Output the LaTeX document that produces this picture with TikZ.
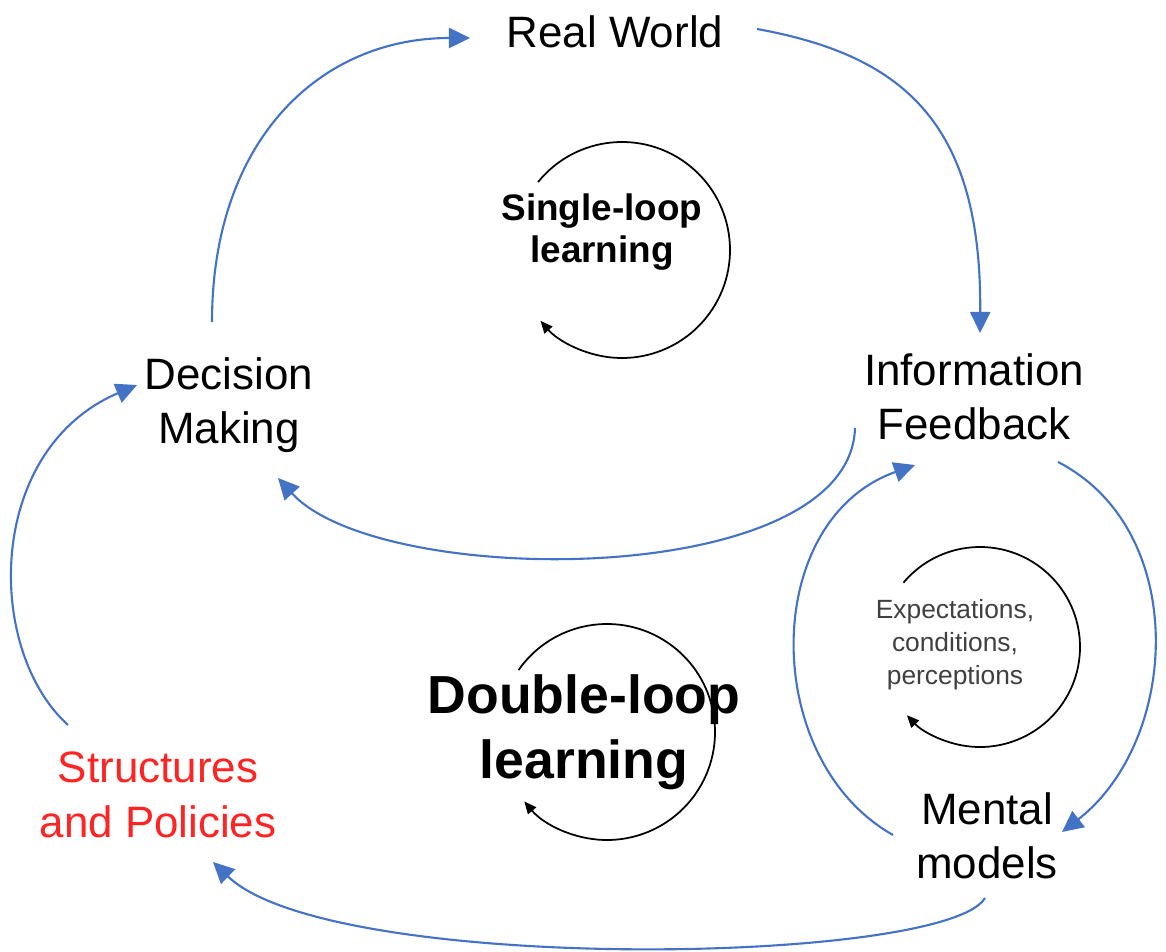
\documentclass[tikz,border=0pt]{standalone}
\usepackage{fontspec}
\setmainfont{Liberation Sans}
\usetikzlibrary{arrows.meta}
\definecolor{flowblue}{HTML}{4472C4}
\definecolor{policyred}{HTML}{FF2424}
\begin{document}
\begin{tikzpicture}[x=0.02cm,y=0.02cm,
  lbl/.style={align=center,inner sep=0pt,font=\fontsize{25}{31}\selectfont},
  flow/.style={draw=flowblue,line width=1.2pt,-{Triangle[length=12pt,width=11.5pt]},fill=none},
  turn/.style={draw=black,line width=1pt,-{Triangle[length=7pt,width=6pt]}}]
\useasboundingbox (0,0) rectangle (1166,-952);
\fill[white] (0,0) rectangle (1166,-952);

% labels
\node[lbl] (rw) at (615,-32) {Real World};
\node[lbl] (dm) at (229,-405) {Decision\\Making};
\node[lbl] (if) at (974,-397) {Information\\Feedback};
\node[lbl] (mm) at (987,-836) {Mental\\models};
\node[lbl,text=policyred] (sp) at (158,-795) {Structures\\and Policies};
\node[align=center,inner sep=0pt,font=\fontsize{21}{24}\bfseries] (sl) at (602,-232) {Single-loop\\learning};
\node[align=center,inner sep=0pt,font=\fontsize{30.5}{37}\bfseries] (dl) at (584,-732) {Double-loop\\learning};
\node[align=center,inner sep=0pt,text=black!75,font=\fontsize{15}{18.7}\selectfont] (ex) at (955,-645) {Expectations,\\conditions,\\perceptions};

% connection points
\coordinate (dmOut) at (212,-322);
\coordinate (dmIn) at (278,-478);
\coordinate (dmIn2) at (137,-385);
\coordinate (rwIn) at (470,-38);
\coordinate (rwOut) at (757,-29);
\coordinate (ifIn) at (980,-333);
\coordinate (ifOut) at (855,-428);
\coordinate (ifOut2) at (1058,-462);
\coordinate (ifIn2) at (915,-465);
\coordinate (mmIn) at (1062,-832);
\coordinate (mmOut) at (893,-835);
\coordinate (mmOut2) at (985,-898);
\coordinate (spIn) at (213,-862);
\coordinate (spOut) at (68,-725);

% single-loop cycle
\draw[flow] (dmOut) .. controls (212,-140) and (320,-38) .. (rwIn);
\draw[flow] (rwOut) .. controls (900,-55) and (982,-120) .. (ifIn);
\draw[flow] (ifOut) .. controls (850,-590) and (380,-590) .. (dmIn);

% double-loop cycle
\draw[flow] (ifOut2) .. controls (1190,-530) and (1180,-740) .. (mmIn);
\draw[flow] (mmOut) .. controls (760,-760) and (760,-520) .. (ifIn2);
\draw[flow] (mmOut2) .. controls (945,-965) and (330,-975) .. (spIn);
\draw[flow] (spOut) .. controls (-15,-650) and (-15,-450) .. (dmIn2);

% circulation arrows around the loop labels
\draw[turn] (622,-250) ++(141:108) arc[start angle=141,end angle=-139,radius=108];
\draw[turn] (607,-732) ++(145:108) arc[start angle=145,end angle=-140,radius=108];
\draw[turn] (980,-647) ++(140:100) arc[start angle=140,end angle=-137,radius=100];
\end{tikzpicture}
\end{document}
